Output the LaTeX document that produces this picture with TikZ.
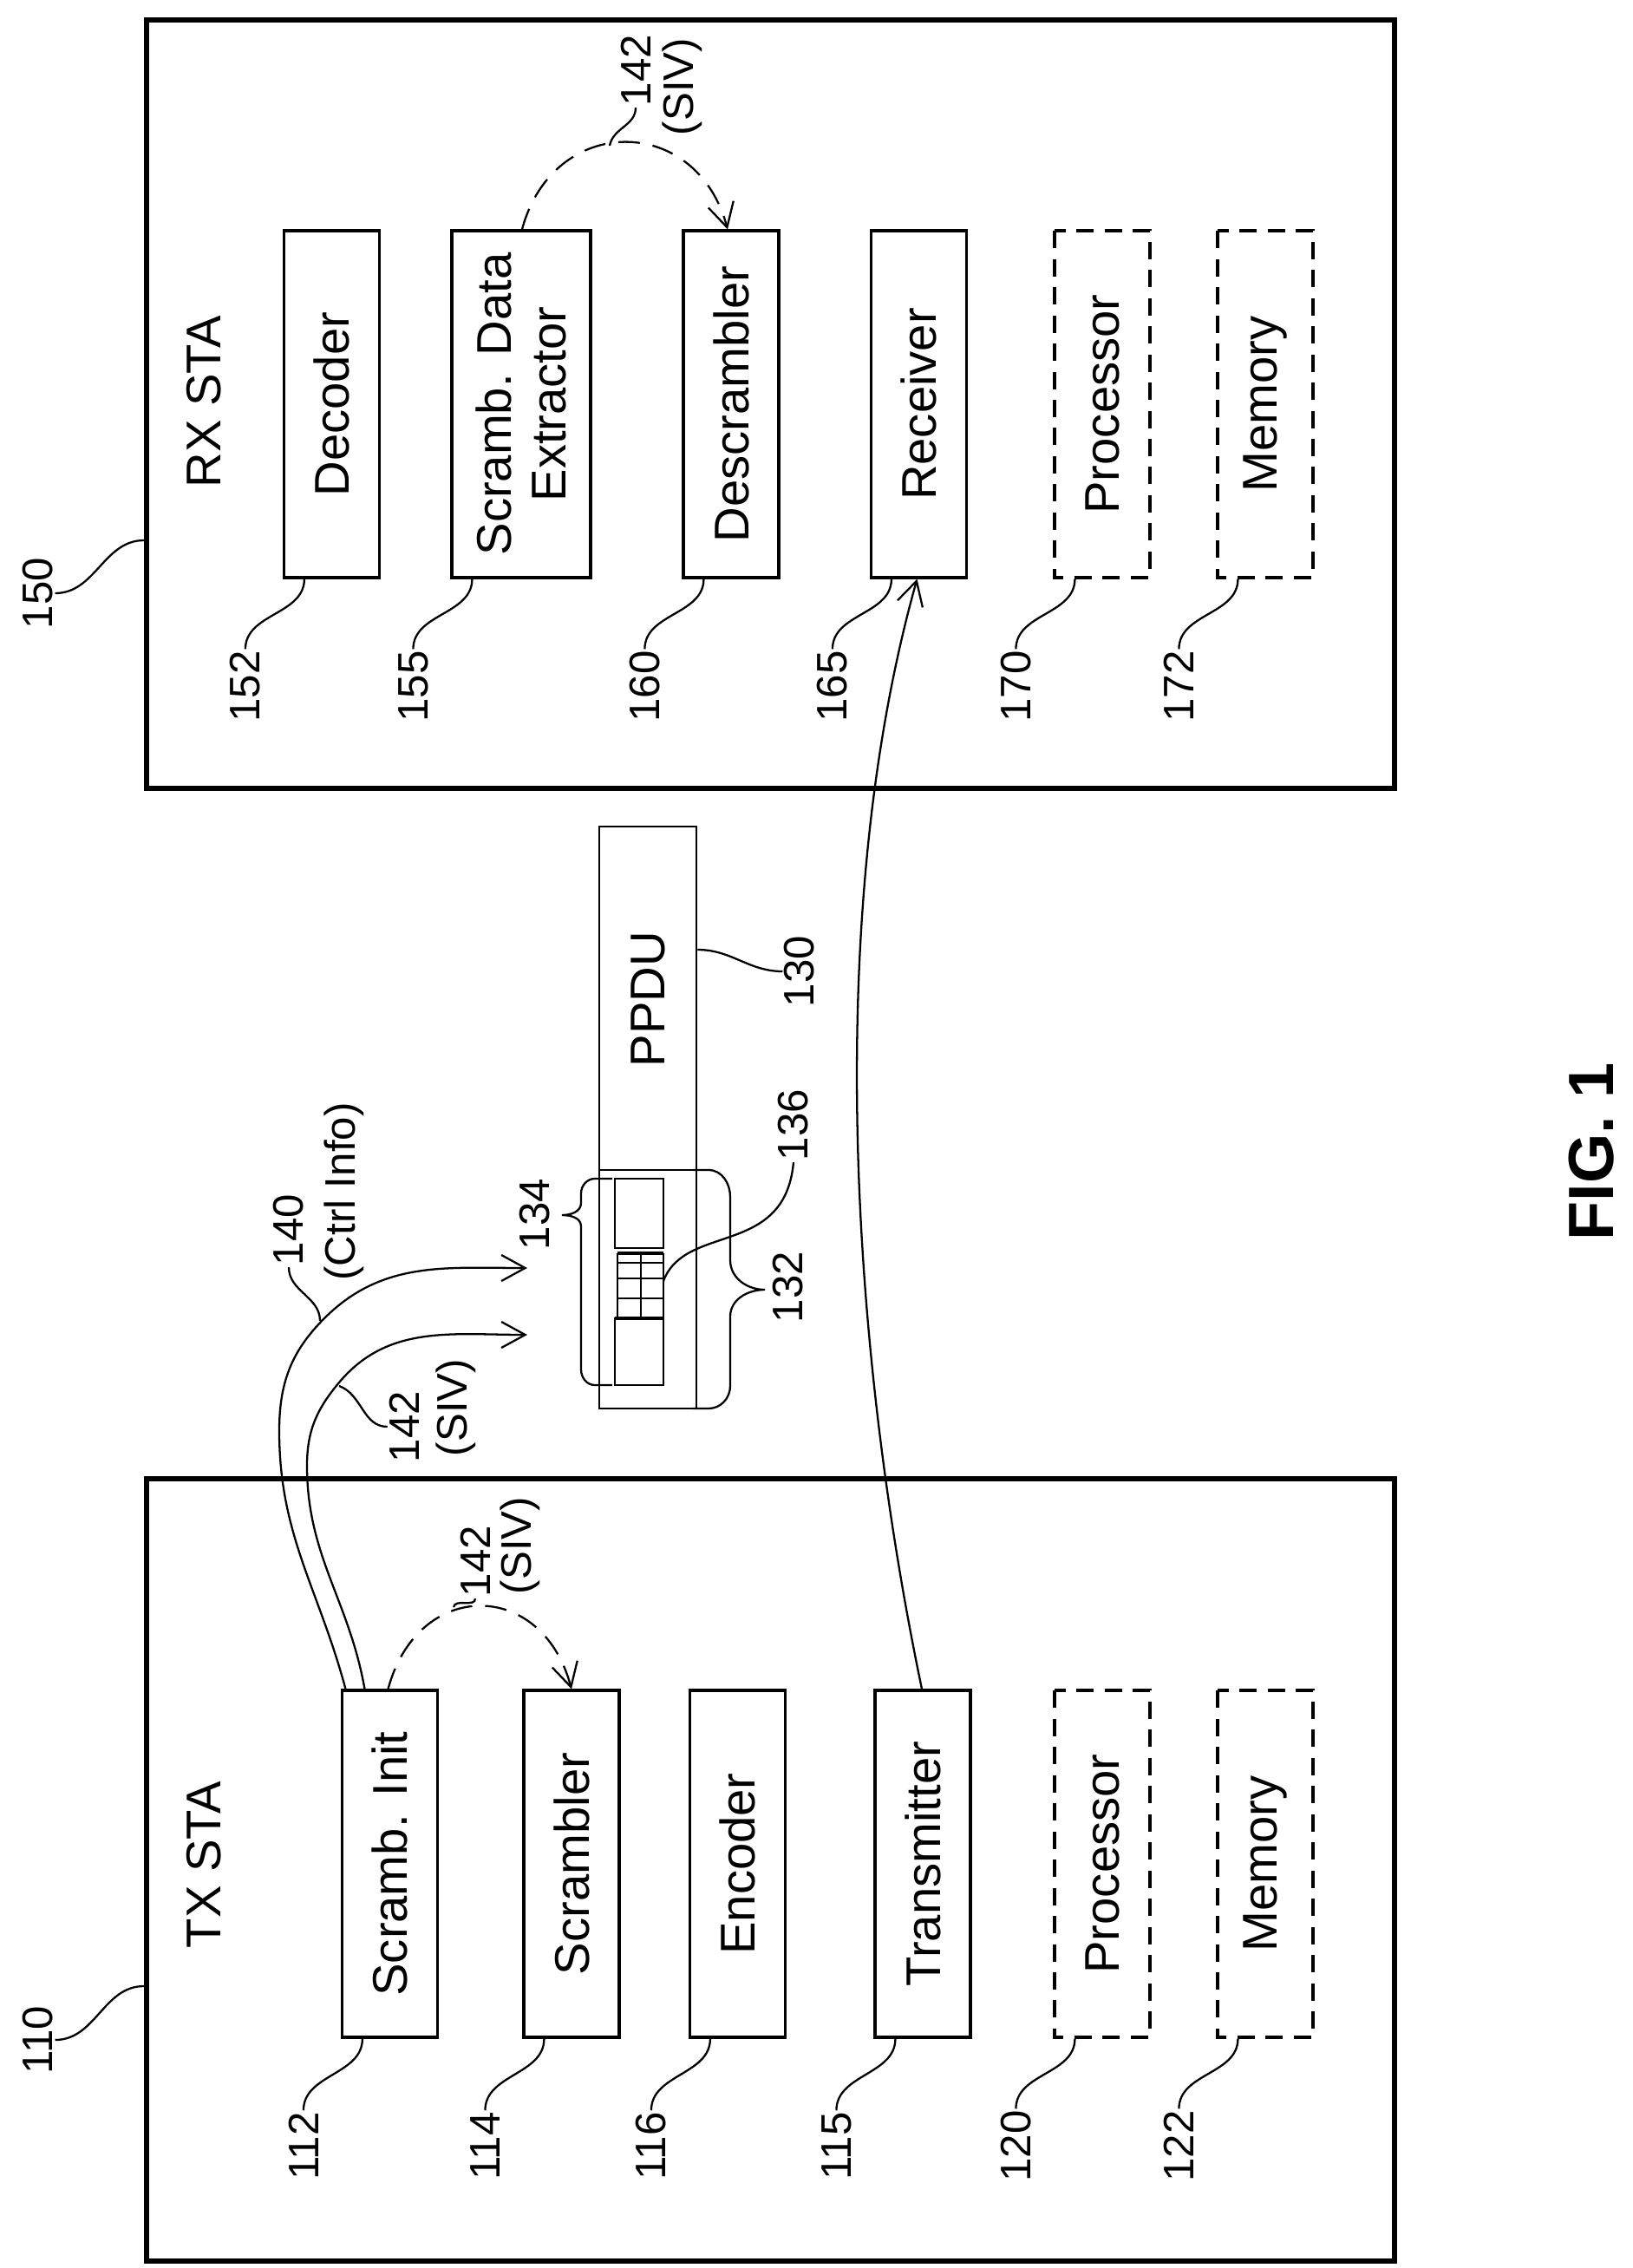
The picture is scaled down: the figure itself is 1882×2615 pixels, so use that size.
\documentclass[tikz,border=0pt]{standalone}
\usepackage{fontspec}
\setmainfont{Liberation Sans}
\usetikzlibrary{arrows.meta,calc}
\tikzset{
  blk/.style={draw,line width=1.8pt,rotate=90,minimum width=8cm,minimum height=2.2cm,inner sep=0pt,font=\fontsize{32}{36}\selectfont,align=center},
  dblk/.style={blk,dash pattern=on 0.4cm off 0.25cm},
  sta/.style={draw,line width=3.5pt,inner sep=0pt},
  num/.style={rotate=90,inner sep=1pt,font=\fontsize{28}{30}\selectfont},
  lead/.style={line width=1.3pt},
  sig/.style={line width=1.3pt,-{Straight Barb[length=0.55cm,width=0.6cm,line width=1.3pt]}},
  dsig/.style={sig,dash pattern=on 0.5cm off 0.3cm},
}
\begin{document}
\begin{tikzpicture}[x=0.02cm,y=-0.02cm]
\useasboundingbox (0,0) rectangle (1882,2615);
% stations
\node[sta,minimum width=28.78cm,minimum height=18.04cm] (tx) at (888.5,2156) {};
\node[sta,minimum width=28.78cm,minimum height=17.72cm] (rx) at (888.5,466) {};
\node[rotate=90,font=\fontsize{32}{36}\selectfont] (txl) at (235,2150) {TX STA};
\node[rotate=90,font=\fontsize{32}{36}\selectfont] (rxl) at (235,463) {RX STA};
\node[num] (n110) at (44,2352) {110};
\node[num] (n150) at (44,684) {150};
\draw[lead] (tx.west |- 0,2290) to[out=180,in=0] (n110.south);
\draw[lead] (rx.west |- 0,623) to[out=180,in=0] (n150.south);
% TX blocks
\node[blk] (si) at (449.5,2149) {Scramb. Init};
\node[blk] (sc) at (659,2149) {Scrambler};
\node[blk] (en) at (850.5,2149) {Encoder};
\node[blk] (tr) at (1064,2149) {Transmitter};
\node[dblk] (tp) at (1271,2149) {Processor};
\node[dblk] (tm) at (1459,2149) {Memory};
% RX blocks
\node[blk] (dc) at (382.5,466) {Decoder};
\node[blk,minimum height=3.2cm] (sd) at (601,466) {Scramb. Data\\Extractor};
\node[blk] (ds) at (843,466) {Descrambler};
\node[blk] (rc) at (1059.5,466) {Receiver};
\node[dblk] (rp) at (1271,466) {Processor};
\node[dblk] (rm) at (1459,466) {Memory};
% reference numbers
\foreach \b/\n in {si/112,sc/114,en/116,tr/115,tp/120,tm/122,dc/152,sd/155,ds/160,rc/165,rp/170,rm/172}{
  \node[num] (n\n) at ($(\b.north west)+(-43,124)$) {\n};
  \draw[lead] ($(\b.north west)+(25,0)$) to[out=-90,in=90] (n\n.east);
}
% PPDU
\node[draw,line width=1.6pt,minimum width=2.24cm,minimum height=13.42cm,inner sep=0pt] (pp) at (747,1288.5) {};
\draw[line width=1.6pt] (pp.west |- 0,1349) -- (pp.east |- 0,1349);
\node[rotate=90,font=\fontsize{32}{36}\selectfont] (ppl) at (747,1152) {PPDU};
\draw[line width=1.6pt] (709,1359) rectangle (765,1439);
\draw[line width=1.6pt] (709,1520) rectangle (765,1597);
\draw[line width=1.2pt] (712,1445) -- (712,1520) (765,1445) -- (765,1520) (739,1445) -- (739,1520);
\draw[line width=2.5pt] (712,1445) -- (765,1445) (709,1520) -- (765,1520);
\foreach \yy in {1456,1474,1497} \draw[line width=0.8pt] (712,\yy) -- (765,\yy);
\node[num] (n130) at (922,1120) {130};
\draw[lead] (pp.east |- 0,1095) to[out=0,in=180] (n130.north);
% braces
\draw[lead] (706,1359) -- (686,1359) to[out=180,in=90] (670,1376) -- (670,1387) to[out=-90,in=0] (648,1401)
  to[out=0,in=90] (670,1414) -- (670,1579) to[out=-90,in=180] (686,1597) -- (706,1597);
\node[num] (n134) at (617,1400) {134};
\draw[lead] (799,1349) -- (817,1349) to[out=0,in=90] (842,1380) -- (842,1453) to[out=-90,in=180] (882,1487)
  to[out=180,in=90] (842,1518) -- (842,1598) to[out=-90,in=0] (817,1624) -- (799,1624);
\node[num] (n132) at (909,1484) {132};
\node[num] (n136) at (915,1297) {136};
\coordinate (f136) at (765,1477);
\draw[lead] (f136) .. controls (790,1410) and (905,1450) .. (n136.west);
% Ctrl Info and SIV to the PPDU
\coordinate (a140) at (608,1462);
\coordinate (a142) at (608,1539);
\draw[sig] ($(si.east)+(-51,0)$) to[out=105,in=-90] (322,1650) to[out=90,in=-135] (374,1520) to[out=45,in=180] (a140);
\draw[sig] ($(si.east)+(-29,0)$) to[out=100,in=-90] (354,1690) to[out=90,in=-130] (391,1594) to[out=50,in=180] (a142);
\node[num] (n140) at (333,1418) {140};
\node[num] (c140) at (397,1374) {(Ctrl Info)};
\coordinate (k140) at (369,1523);
\draw[lead] (k140) to[out=90,in=-90] (n140.west);
\node[num] (n142a) at (466,1645) {142};
\node[num] (s142a) at (526,1623) {(SIV)};
\coordinate (k142) at (391,1598);
\draw[lead] (k142) to[out=-20,in=180] (n142a.north);
% SIV inside the stations
\draw[dsig] ($(si.east)+(-2,0)$) to[out=75,in=105,looseness=1.6] (sc.east);
\node[num] (n142b) at (548,1800) {142};
\node[num] (s142b) at (600,1782) {(SIV)};
\coordinate (k142b) at (523,1853);
\draw[lead] (k142b) to[out=80,in=-90] (n142b.west);
\draw[dsig] ($(sd.east)+(1,0)$) to[out=75,in=105,looseness=1.5] ($(ds.east)+(-4,0)$);
\node[num] (n142c) at (733,81) {142};
\node[num] (s142c) at (787,100) {(SIV)};
\coordinate (k142c) at (703,168);
\draw[lead] (k142c) to[out=80,in=-90] (n142c.west);
% transmission
\draw[sig] ($(tr.east)+(-1,0)$) .. controls (980,1550) and (950,1050) .. ($(rc.west)+(-2,0)$);
\node[rotate=90,font=\bfseries\fontsize{42}{46}\selectfont] (fig) at (1835,1328) {FIG. 1};
\end{tikzpicture}
\end{document}
